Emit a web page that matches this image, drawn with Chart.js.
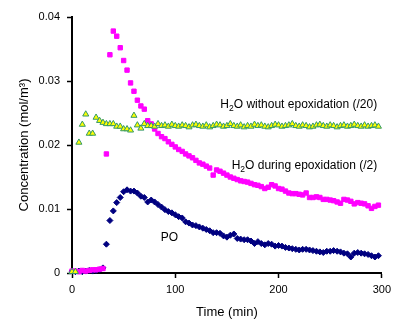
<!DOCTYPE html>
<html>
<head>
<meta charset="utf-8">
<script src="https://cdn.jsdelivr.net/npm/chart.js@4.4.1/dist/chart.umd.min.js"></script>
<style>
    html, body { margin: 0; padding: 0; background: #fff; }
    #wrap { width: 396px; height: 320px; }
</style>
</head>
<body>
<div id="wrap"><canvas id="myChart" width="396" height="320"></canvas></div>
<script>
// time axis (min)
const times = [
    0, 3.3, 6.7, 10, 13.3, 16.7, 20, 23.3, 26.7, 30,
    33.3, 36.7, 40, 43.3, 46.7, 50, 53.3, 56.7, 60, 63.3,
    66.7, 70, 73.3, 76.7, 80, 83.3, 86.7, 90, 93.3, 96.7,
    100, 103.3, 106.7, 110, 113.3, 116.7, 120, 123.3, 126.7, 130,
    133.3, 136.7, 140, 143.3, 146.7, 150, 153.3, 156.7, 160, 163.3,
    166.7, 170, 173.3, 176.7, 180, 183.3, 186.7, 190, 193.3, 196.7,
    200, 203.3, 206.7, 210, 213.3, 216.7, 220, 223.3, 226.7, 230,
    233.3, 236.7, 240, 243.3, 246.7, 250, 253.3, 256.7, 260, 263.3,
    266.7, 270, 273.3, 276.7, 280, 283.3, 286.7, 290, 293.3, 296.7
];

// PO
const poValues = [
    0.0003, 0.0002, 0.0003, 0.0002, 0.0003, 0.0004, 0.0003, 0.0004, 0.0005, 0.0008,
    0.0045, 0.0082, 0.0097, 0.0110, 0.0118, 0.0127, 0.0130, 0.0128, 0.0128, 0.0125,
    0.0120, 0.0118, 0.0111, 0.0114, 0.0111, 0.0107, 0.0103, 0.0099, 0.0096, 0.0094,
    0.0091, 0.0088, 0.0086, 0.0080, 0.0078, 0.0075, 0.0074, 0.0072, 0.0070, 0.0068,
    0.0066, 0.0063, 0.0063, 0.0062, 0.0058, 0.0056, 0.0059, 0.0061, 0.0054, 0.0053,
    0.0052, 0.0052, 0.0050, 0.0046, 0.0049, 0.0046, 0.0044, 0.0046, 0.0045, 0.0042,
    0.0043, 0.0042, 0.0040, 0.0039, 0.0038, 0.0037, 0.0036, 0.0037, 0.0037, 0.0036,
    0.0035, 0.0034, 0.0033, 0.0032, 0.0034, 0.0034, 0.0035, 0.0034, 0.0033, 0.0031,
    0.0030, 0.0025, 0.0031, 0.0032, 0.0031, 0.0030, 0.0029, 0.0027, 0.0025, 0.0027
];

// H2O during epoxidation (/2)
const waterDuring = [
    0.0003, 0.0003, 0.0002, 0.0004, 0.0003, 0.0004, 0.0005, 0.0005, 0.0006, 0.0007,
    0.0186, 0.0341, 0.0378, 0.0370, 0.0352, 0.0332, 0.0317, 0.0297, 0.0284, 0.0270,
    0.0261, 0.0256, 0.0238, 0.0233, 0.0225, 0.0218, 0.0213, 0.0210, 0.0205, 0.0201,
    0.0197, 0.0193, 0.0190, 0.0186, 0.0183, 0.0180, 0.0176, 0.0172, 0.0170, 0.0167,
    0.0164, 0.0153, 0.0161, 0.0159, 0.0156, 0.0153, 0.0150, 0.0148, 0.0146, 0.0144,
    0.0143, 0.0142, 0.0140, 0.0138, 0.0137, 0.0135, 0.0132, 0.0134, 0.0138, 0.0136,
    0.0132, 0.0131, 0.0128, 0.0125, 0.0124, 0.0124, 0.0123, 0.0122, 0.0125, 0.0118,
    0.0118, 0.0119, 0.0118, 0.0115, 0.0115, 0.0114, 0.0113, 0.0111, 0.0109, 0.0115,
    0.0114, 0.0112, 0.0108, 0.0110, 0.0109, 0.0108, 0.0105, 0.0101, 0.0104, 0.0106
];

// H2O without epoxidation (/20)
const waterWithout = [
    0.0002, 0.0002, 0.0204, 0.0232, 0.0248, 0.0218, 0.0218, 0.0243, 0.0238, 0.0235,
    0.0233, 0.0233, 0.0233, 0.0229, 0.0229, 0.0225, 0.0225, 0.0223, 0.0246, 0.0231,
    0.0226, 0.0233, 0.0230, 0.0230, 0.0229, 0.0233, 0.0230, 0.0231, 0.0229, 0.0232,
    0.0230, 0.0229, 0.0231, 0.0230, 0.0228, 0.0231, 0.0232, 0.0230, 0.0229, 0.0231,
    0.0228, 0.0230, 0.0232, 0.0231, 0.0229, 0.0230, 0.0233, 0.0230, 0.0229, 0.0231,
    0.0228, 0.0230, 0.0229, 0.0232, 0.0230, 0.0231, 0.0229, 0.0228, 0.0230, 0.0232,
    0.0231, 0.0229, 0.0230, 0.0231, 0.0233, 0.0230, 0.0229, 0.0231, 0.0230, 0.0228,
    0.0229, 0.0231, 0.0232, 0.0230, 0.0229, 0.0231, 0.0230, 0.0228, 0.0230, 0.0231,
    0.0229, 0.0230, 0.0232, 0.0230, 0.0229, 0.0231, 0.0229, 0.0230, 0.0231, 0.0229
];

const xTicks = [0, 100, 200, 300];
const yTickLabels = ['0', '0.01', '0.02', '0.03', '0.04'];

// podpisy serii: [tekst przed indeksem, indeks, reszta], pozycja w jednostkach danych
const seriesLabels = [
    { parts: ['H', '2', 'O without epoxidation (/20)'], x: 295.5, y: 0.0263, align: 'right' },
    { parts: ['H', '2', 'O during epoxidation (/2)'], x: 295.5, y: 0.0167, align: 'right' },
    { parts: ['PO', '', ''], x: 86, y: 0.0055, align: 'left' }
];

function toPoints(values) {
    return values.map((v, i) => ({ x: times[i], y: v }));
}

// rysowanie podpisów z indeksem dolnym
const labelPlugin = {
    id: 'seriesLabels',
    afterDatasetsDraw(chart) {
        const ctx = chart.ctx;
        const xs = chart.scales.x;
        const ys = chart.scales.y;
        const big = '12px "Liberation Sans", Arial, sans-serif';
        const small = '8.5px "Liberation Sans", Arial, sans-serif';
        ctx.save();
        ctx.fillStyle = '#000';
        ctx.textBaseline = 'middle';
        ctx.textAlign = 'left';
        seriesLabels.forEach(lab => {
            ctx.font = big;
            const w0 = ctx.measureText(lab.parts[0]).width;
            const w2 = ctx.measureText(lab.parts[2]).width;
            ctx.font = small;
            const w1 = ctx.measureText(lab.parts[1]).width;
            const total = w0 + w1 + w2;
            const px = xs.getPixelForValue(lab.x);
            const py = ys.getPixelForValue(lab.y);
            let x = lab.align === 'right' ? px - total : px;
            ctx.font = big;
            ctx.fillText(lab.parts[0], x, py);
            x += w0;
            ctx.font = small;
            ctx.fillText(lab.parts[1], x, py + 4);
            x += w1;
            ctx.font = big;
            ctx.fillText(lab.parts[2], x, py);
        });
        ctx.restore();
    }
};

function createScatterChart() {
    const ctx = document.getElementById('myChart').getContext('2d');
    Chart.defaults.font.family = '"Liberation Sans", Arial, sans-serif';
    Chart.defaults.color = '#000';
    const myChart = new Chart(ctx, {
        type: 'scatter',
        data: {
            datasets: [{
                label: 'H2O without epoxidation (/20)',
                data: toPoints(waterWithout),
                pointStyle: 'triangle',
                pointRadius: 3.5,
                backgroundColor: '#ffff00',
                borderColor: '#339966',
                borderWidth: 1,
                order: 0,
                clip: false
            }, {
                label: 'H2O during epoxidation (/2)',
                data: toPoints(waterDuring),
                pointStyle: 'rect',
                pointRadius: 3.1,
                backgroundColor: '#ff00ff',
                borderColor: '#ff00ff',
                borderWidth: 1,
                order: 1,
                clip: false
            }, {
                label: 'PO',
                data: toPoints(poValues),
                pointStyle: 'rectRot',
                pointRadius: 3,
                backgroundColor: '#000080',
                borderColor: '#000080',
                borderWidth: 1,
                order: 2,
                clip: false
            }]
        },
        options: {
            responsive: false,
            animation: false,
            events: [],
            layout: {
                padding: { top: 17, right: 9, left: 0, bottom: 0 }
            },
            scales: {
                x: {
                    type: 'linear',
                    min: 0,
                    max: 300,
                    afterBuildTicks: scale => {
                        scale.ticks = xTicks.map(v => ({ value: v }));
                    },
                    afterFit: scale => { scale.height = 47; },
                    ticks: {
                        padding: 5,
                        maxRotation: 0,
                        font: { size: 11 },
                        callback: v => String(v)
                    },
                    grid: {
                        drawOnChartArea: false,
                        drawTicks: true,
                        tickLength: 5,
                        tickWidth: 1.5,
                        tickColor: '#000'
                    },
                    border: { display: true, color: '#000', width: 2 },
                    title: {
                        display: true,
                        text: 'Time (min)',
                        font: { size: 13 },
                        padding: { top: 0, bottom: 0 }
                    }
                },
                y: {
                    type: 'linear',
                    min: 0,
                    max: 0.04,
                    afterBuildTicks: scale => {
                        scale.ticks = yTickLabels.map(t => ({ value: parseFloat(t) }));
                    },
                    afterFit: scale => { scale.width = 72; },
                    ticks: {
                        padding: 7,
                        font: { size: 11 },
                        callback: (v, i) => yTickLabels[i]
                    },
                    grid: {
                        drawOnChartArea: false,
                        drawTicks: true,
                        tickLength: 5,
                        tickWidth: 1.5,
                        tickColor: '#000'
                    },
                    border: { display: true, color: '#000', width: 2 },
                    title: {
                        display: true,
                        text: 'Concentration (mol/m\u00b3)',
                        font: { size: 13 },
                        padding: { top: 17, bottom: 0 }
                    }
                }
            },
            plugins: {
                legend: { display: false },
                tooltip: { enabled: false }
            }
        },
        plugins: [labelPlugin]
    });
}

createScatterChart();
</script>
</body>
</html>
